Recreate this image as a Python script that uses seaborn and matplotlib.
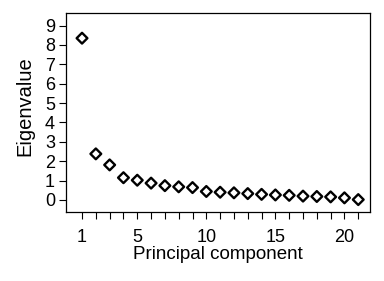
import matplotlib
matplotlib.use("Agg")
import matplotlib.pyplot as plt
import seaborn as sns
import pandas as pd

components = list(range(1, 22))
eigenvalues = [8.35, 2.38, 1.81, 1.15, 1.02, 0.87, 0.74, 0.68, 0.64, 0.44,
               0.40, 0.37, 0.33, 0.29, 0.26, 0.24, 0.20, 0.18, 0.16, 0.11, 0.02]
x_tick_labels = [1, 5, 10, 15, 20]
y_ticks = list(range(0, 10))

sns.set_style("ticks")
plt.rcParams['font.family'] = ['Liberation Sans', 'DejaVu Sans']
plt.rcParams['text.color'] = 'black'
plt.rcParams['axes.labelcolor'] = 'black'

df = pd.DataFrame({"Principal component": components, "Eigenvalue": eigenvalues})

fig = plt.figure(figsize=(3.84, 2.81), dpi=100)
ax = fig.add_axes([66/384, 1-212/281, (370-66)/384, (212-13)/281])
sns.scatterplot(data=df, x="Principal component", y="Eigenvalue", ax=ax,
                marker="D", s=30, facecolors="none", edgecolor="black",
                linewidth=1.7, zorder=3)

ax.set_xlim(-0.16, 21.85)
ax.set_ylim(-0.62, 9.65)
ax.set_xticks(components)
ax.set_xticklabels([str(c) if c in x_tick_labels else "" for c in components])
ax.set_yticks(y_ticks)
ax.tick_params(axis="both", direction="out", length=5, width=0.8,
               colors="black", labelsize=13, pad=3)
ax.tick_params(axis="x", pad=7)
for sp in ax.spines.values():
    sp.set_visible(True)
    sp.set_linewidth(0.9)
    sp.set_color("black")
ax.set_xlabel("Principal component", fontsize=13.5, labelpad=0, color="black")
ax.set_ylabel("Eigenvalue", fontsize=14.5, color="black")
ax.yaxis.set_label_coords(-0.105, 0.533)

fig.savefig("out.png", dpi=100)
